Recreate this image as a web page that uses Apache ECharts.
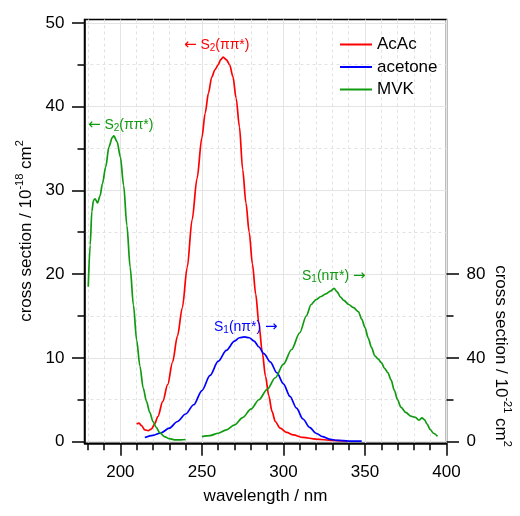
<!DOCTYPE html>
<html><head><meta charset="utf-8">
<script src="https://cdn.jsdelivr.net/npm/echarts@6/dist/echarts.min.js"></script>
<style>html,body{margin:0;padding:0;background:#fff}#c{width:520px;height:516px}</style>
</head><body><div id="c"></div>
<script>
// ---- data ----
const acacWl  = [210,211.5,213,215,217,219,221,223,226,229,232,235,238,241,244,247,250,252,254,256,258,260,261.5,263,265,267,269,271,273,275,277,279,281,283,285,287,289,291,293,295,298,302,306,312,320,330,339];
const acacVal = [2.1,2.2,1.9,1.4,1.3,1.5,2.1,3.0,4.8,6.8,9.5,12.6,16.0,20.8,26.5,31.4,36.3,39.2,41.6,43.5,44.4,45.0,45.6,45.9,45.6,45.0,43.6,41.0,37.6,32.5,28.5,25.0,21.2,17.6,14.0,10.7,7.8,5.5,3.6,2.4,1.6,1.1,0.8,0.5,0.3,0.15,0.05];

const acetoneWl  = [215,220,225,230,235,240,245,250,255,260,265,270,273,276,279,282,285,288,292,296,300,304,308,312,316,320,324,328,333,340,348];
const acetoneVal = [0.5,0.75,1.05,1.6,2.4,3.3,4.4,6.1,7.9,9.6,10.9,12.0,12.4,12.5,12.4,12.0,11.3,10.5,9.5,8.2,6.9,5.4,4.0,2.7,1.7,1.0,0.6,0.3,0.15,0.07,0.05];

// MVK S2 band, left axis (10^-18 cm^2)
const mvkS2Wl  = [180.3,181.5,182.5,183.5,184.5,186,187.5,189,191,193,195,196,198,200,202,204,206,208,210,212,214,216,218,220,222,224,227,230,234,237,240];
const mvkS2Val = [18.5,23.5,27.5,28.8,29.0,28.5,29.3,30.8,32.8,35.2,36.3,36.5,35.8,34.0,30.6,25.8,20.8,16.3,12.1,9.0,6.4,4.8,3.5,2.4,1.7,1.1,0.6,0.35,0.2,0.2,0.25];

// MVK S1 band, right axis (10^-21 cm^2)
const mvkS1Wl  = [250,255,260,265,270,275,280,285,290,295,300,305,310,314,317,320,323,326,329,331,333,335,337,340,343,346,348,350,352,354,356,358,360,362,364,366,368,370,372,375,378,381,383,385,386.5,388,390,392,394.5];
const mvkS1Val = [2.4,2.9,4.0,5.6,8.0,11.5,15.5,20.0,25.0,30.5,37.0,44.0,52.0,60.0,65.5,67.8,69.3,70.6,72.0,73.2,71.5,69.0,67.5,65.5,64.0,62.0,58.5,54.5,49.5,45.0,41.0,39.5,37.8,35.0,33.0,29.5,24.5,20.0,16.5,14.0,12.2,11.6,10.2,11.3,10.5,8.5,5.8,4.0,2.5];

const xMajor = [200,250,300,350,400];
const xMinor = [180,190,210,220,230,240,260,270,280,290,310,320,330,340,360,370,380,390];
const yLeftMajor = [0,10,20,30,40,50];
const yLeftMinor = [5,15,25,35,45];
const yRightMajor = [0,40,80];
const yRightMinor = [20,60];

const seriesNames = ['AcAc','acetone','MVK'];
const colors = {AcAc:'#ff0000', acetone:'#0000ff', MVK:'#109a10'};

// ---- chart ----
const zip = (a,b) => a.map((v,i)=>[v,b[i]]);
const FONT = '"Liberation Sans", Arial, Helvetica, sans-serif';
const chart = echarts.init(document.getElementById('c'), null, {renderer:'canvas'});

const majorLine = {show:true, lineStyle:{color:'#e4e4e4', width:1, type:'solid'}};
const minorLine = {show:true, lineStyle:{color:'#e2e2e2', width:1, type:[3,3]}};
const tickStyle = {color:'#000', width:1.5};

function mkX(vals, major){
  return {type:'value', min:178, max:400, position:'bottom', gridIndex:0,
    axisLine:{show:major, onZero:false, lineStyle:{color:'#000', width:1.5}},
    axisTick:{show:true, customValues:vals, inside:false, length: major?12.5:7, lineStyle:tickStyle},
    axisLabel:{show:major, customValues:vals, margin:21, fontSize:17, color:'#000', fontFamily:FONT},
    splitLine: major?majorLine:minorLine,
    name: major ? 'wavelength / nm' : '', nameLocation:'middle', nameGap:45,
    nameTextStyle:{fontSize:17, color:'#000', fontFamily:FONT}};
}
function mkY(vals, major, right){
  return {type:'value', gridIndex:0, position: right?'right':'left',
    min: right ? -0.8 : -0.2, max: right ? 201.6 : 50.4,
    axisLine:{show:major && !right, onZero:false, lineStyle:{color:'#000', width:1.5}},
    axisTick:{show:true, customValues:vals, inside:false, length: major?12.5:7, lineStyle:tickStyle},
    axisLabel:{show:major, customValues:vals, margin:20, fontSize:17, color:'#000', fontFamily:FONT},
    splitLine: right ? {show:false} : (major?majorLine:minorLine)};
}

const lineSeries = (name, wl, val, yIdx) => ({
  name, type:'line', xAxisIndex:0, yAxisIndex:yIdx, data:zip(wl,val),
  showSymbol:false, symbol:'none', smooth:0.3, smoothMonotone:'x', clip:true,
  lineStyle:{color:colors[name], width:1.7}, itemStyle:{color:colors[name]}, z:5
});

function ann(x, y, arrowL, sub, post, arrowR, color){
  const txt = (arrowL ? '{r|←}{a| S}' : '{a|S}') + '{b|'+sub+'}{a|'+post+'}' + (arrowR ? '{a| }{r|→}' : '');
  return {type:'text', x, y, z:100,
    style:{text:txt, align:'left', verticalAlign:'middle',
      rich:{a:{fontSize:14, fill:color, fontFamily:FONT, lineHeight:17},
            r:{fontSize:15, fill:color, fontFamily:'"DejaVu Sans", sans-serif', lineHeight:17},
            b:{fontSize:10, fill:color, fontFamily:FONT, verticalAlign:'bottom', lineHeight:17}}}};
}
function title(x, y, rot, exp){
  return {type:'text', x, y, rotation:rot, z:100,
    style:{text:'{a|cross section / 10}{s|'+exp+'}{a| cm}{s|2}', align:'center', verticalAlign:'middle',
      rich:{a:{fontSize:17, fill:'#000', fontFamily:FONT, lineHeight:24},
            s:{fontSize:11, fill:'#000', fontFamily:FONT, verticalAlign:'top', lineHeight:24}}}};
}

chart.setOption({
  animation:false,
  backgroundColor:'#fff',
  grid:{left:84.5, right:73.5, top:19.5, bottom:72.7, show:true, borderColor:'#000', borderWidth:1.5, backgroundColor:'transparent'},
  legend:{data:seriesNames, orient:'vertical', left:335, top:31, itemWidth:32, itemHeight:14, itemGap:5.5,
    textStyle:{fontSize:17, color:'#000', fontFamily:FONT}, icon:'path://M0,6 L32,6 L32,8 L0,8 Z'},
  xAxis:[mkX(xMajor,true), mkX(xMinor,false)],
  yAxis:[mkY(yLeftMajor,true,false), mkY(yLeftMinor,false,false), mkY(yRightMajor,true,true), mkY(yRightMinor,false,true)],
  series:[
    lineSeries('AcAc', acacWl, acacVal, 0),
    lineSeries('acetone', acetoneWl, acetoneVal, 0),
    lineSeries('MVK', mvkS2Wl, mvkS2Val, 0),
    lineSeries('MVK', mvkS1Wl, mvkS1Val, 2)
  ],
  graphic:[
    ann(184, 45, true, '2', '(ππ*)', false, '#ff0000'),
    ann(88, 125, true, '2', '(ππ*)', false, '#109a10'),
    ann(214, 327, false, '1', '(nπ*)', true, '#0000ff'),
    ann(302, 276, false, '1', '(nπ*)', true, '#109a10'),
    title(26, 231, Math.PI/2, '-18'),
    title(501, 356, -Math.PI/2, '-21')
  ]
});
</script></body></html>
